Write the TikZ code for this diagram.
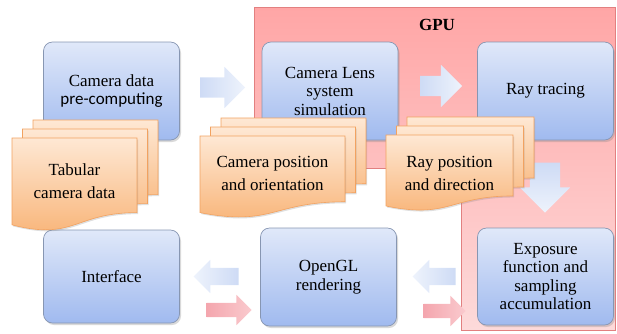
\documentclass[tikz,border=0pt]{standalone}
\usepackage{fontspec}
\setmainfont{Liberation Serif}
\newfontfamily\timesfont{Liberation Serif}
\newfontfamily\calibrifont{Carlito}
\usetikzlibrary{positioning,shapes.arrows,shadows,calc}

\definecolor{BoxTop}{RGB}{224,232,249}
\definecolor{BoxBot}{RGB}{160,186,239}
\definecolor{BoxLine}{RGB}{135,150,178}
\definecolor{DocTop}{RGB}{254,232,212}
\definecolor{DocBot}{RGB}{248,178,116}
\definecolor{DocLine}{RGB}{242,162,96}
\definecolor{GpuTop}{RGB}{255,166,166}
\definecolor{GpuBot}{RGB}{253,218,218}
\definecolor{GpuLine}{RGB}{226,128,128}
\definecolor{ArrBlue}{RGB}{206,219,245}
\definecolor{ArrBlueLt}{RGB}{238,243,252}
\definecolor{ArrPink}{RGB}{244,166,174}
\definecolor{ArrPinkLt}{RGB}{250,202,206}

\tikzset{
  stagebox/.style={draw=BoxLine,line width=0.7pt,rounded corners=9pt,
    top color=BoxTop,bottom color=BoxBot,minimum width=136pt,minimum height=98pt,
    align=center,inner sep=2pt,font=\timesfont\fontsize{17}{18.5}\selectfont,
    drop shadow={shadow xshift=1.5pt,shadow yshift=-2pt,opacity=0.3}},
  docsheet/.style={draw=DocLine,line width=0.6pt,top color=DocTop,bottom color=DocBot,
    drop shadow={shadow xshift=1.2pt,shadow yshift=-1.5pt,opacity=0.25}},
  doctext/.style={align=center,inner sep=1pt,font=\timesfont\fontsize{17}{23}\selectfont},
  gpuzone/.style={draw=GpuLine,line width=0.6pt,top color=GpuTop,bottom color=GpuBot},
  flowarrow/.style={single arrow,draw=none,inner xsep=0pt,single arrow head indent=0pt},
}

% three stacked sheets with a wavy lower edge: x, y (top left of front sheet), width, height
\newcommand\docstack[4]{%
  \foreach \k in {2,1,0}{%
    \begin{scope}[shift={(#1+10.5*\k,#2-9*\k)}]
      \path[docsheet] (0,0) -- (#3,0) -- (#3,0.802*#4)
        .. controls (0.5*#3,0.802*#4) and (0.5*#3,1.107*#4) .. (0,0.934*#4) -- cycle;
    \end{scope}}}

\begin{document}
\begin{tikzpicture}[x=1pt,y=-1pt]
  \useasboundingbox (0,0) rectangle (617,333);

  % GPU area
  \path[gpuzone] (254,7) -- (615,7) -- (615,330) -- (461,330) -- (461,168) -- (254,168) -- cycle;
  \node[font=\timesfont\fontsize{17}{18}\selectfont\bfseries] (gpu) at (437,25) {GPU};

  % stages
  \node[stagebox] (precomp) at (111.5,91) {Camera data\\{\calibrifont pre-computing}};
  \node[stagebox] (lens) at (330,91) {Camera Lens\\system\\simulation};
  \node[stagebox] (raytrace) at (545.5,91) {Ray tracing};
  \node[stagebox,minimum height=93pt] (iface) at (111.5,276.5) {Interface};
  \node[stagebox] (opengl) at (328.5,277) {OpenGL\\rendering};
  \node[stagebox,minimum height=97pt] (expo) at (545.5,276.5) {Exposure\\function and\\sampling\\accumulation};

  % block arrows
  \node[flowarrow,minimum height=45pt,inner ysep=10pt,single arrow head extend=10.5pt,
    left color=ArrBlue,right color=ArrBlueLt] (a1) at (217.5,87.5) {};
  \node[flowarrow,minimum height=42pt,inner ysep=10pt,single arrow head extend=11pt,
    left color=ArrBlue,right color=ArrBlueLt] (a2) at (436,86) {};
  \node[flowarrow,shape border rotate=270,minimum height=50pt,inner xsep=15pt,inner ysep=15pt,
    single arrow head extend=10pt,top color=ArrBlue,bottom color=ArrBlueLt] (a3) at (545,180) {};
  \node[flowarrow,shape border rotate=180,minimum height=43pt,inner ysep=8.5pt,
    single arrow head extend=8pt,left color=ArrBlueLt,right color=ArrBlue] (a4) at (438.5,276.5) {};
  \node[flowarrow,shape border rotate=180,minimum height=45pt,inner ysep=8.5pt,
    single arrow head extend=8pt,left color=ArrBlueLt,right color=ArrBlue] (a5) at (220.5,276.5) {};
  \node[flowarrow,minimum height=45pt,inner ysep=7pt,single arrow head extend=8pt,
    left color=ArrPink,right color=ArrPinkLt] (a6) at (225.5,310) {};
  \node[flowarrow,minimum height=42pt,inner ysep=7pt,single arrow head extend=8pt,
    left color=ArrPink,right color=ArrPinkLt] (a7) at (441,311) {};

  % data sheets
  \docstack{12}{138}{125}{93}
  \node[doctext] (tabular) at (74.5,181.5) {Tabular\\camera data};
  \docstack{200}{136}{145}{82}
  \node[doctext] (campose) at (272.5,173.5) {Camera position\\and orientation};
  \docstack{386}{135}{127}{76}
  \node[doctext] (raypose) at (449.5,173) {Ray position\\and direction};
\end{tikzpicture}
\end{document}
